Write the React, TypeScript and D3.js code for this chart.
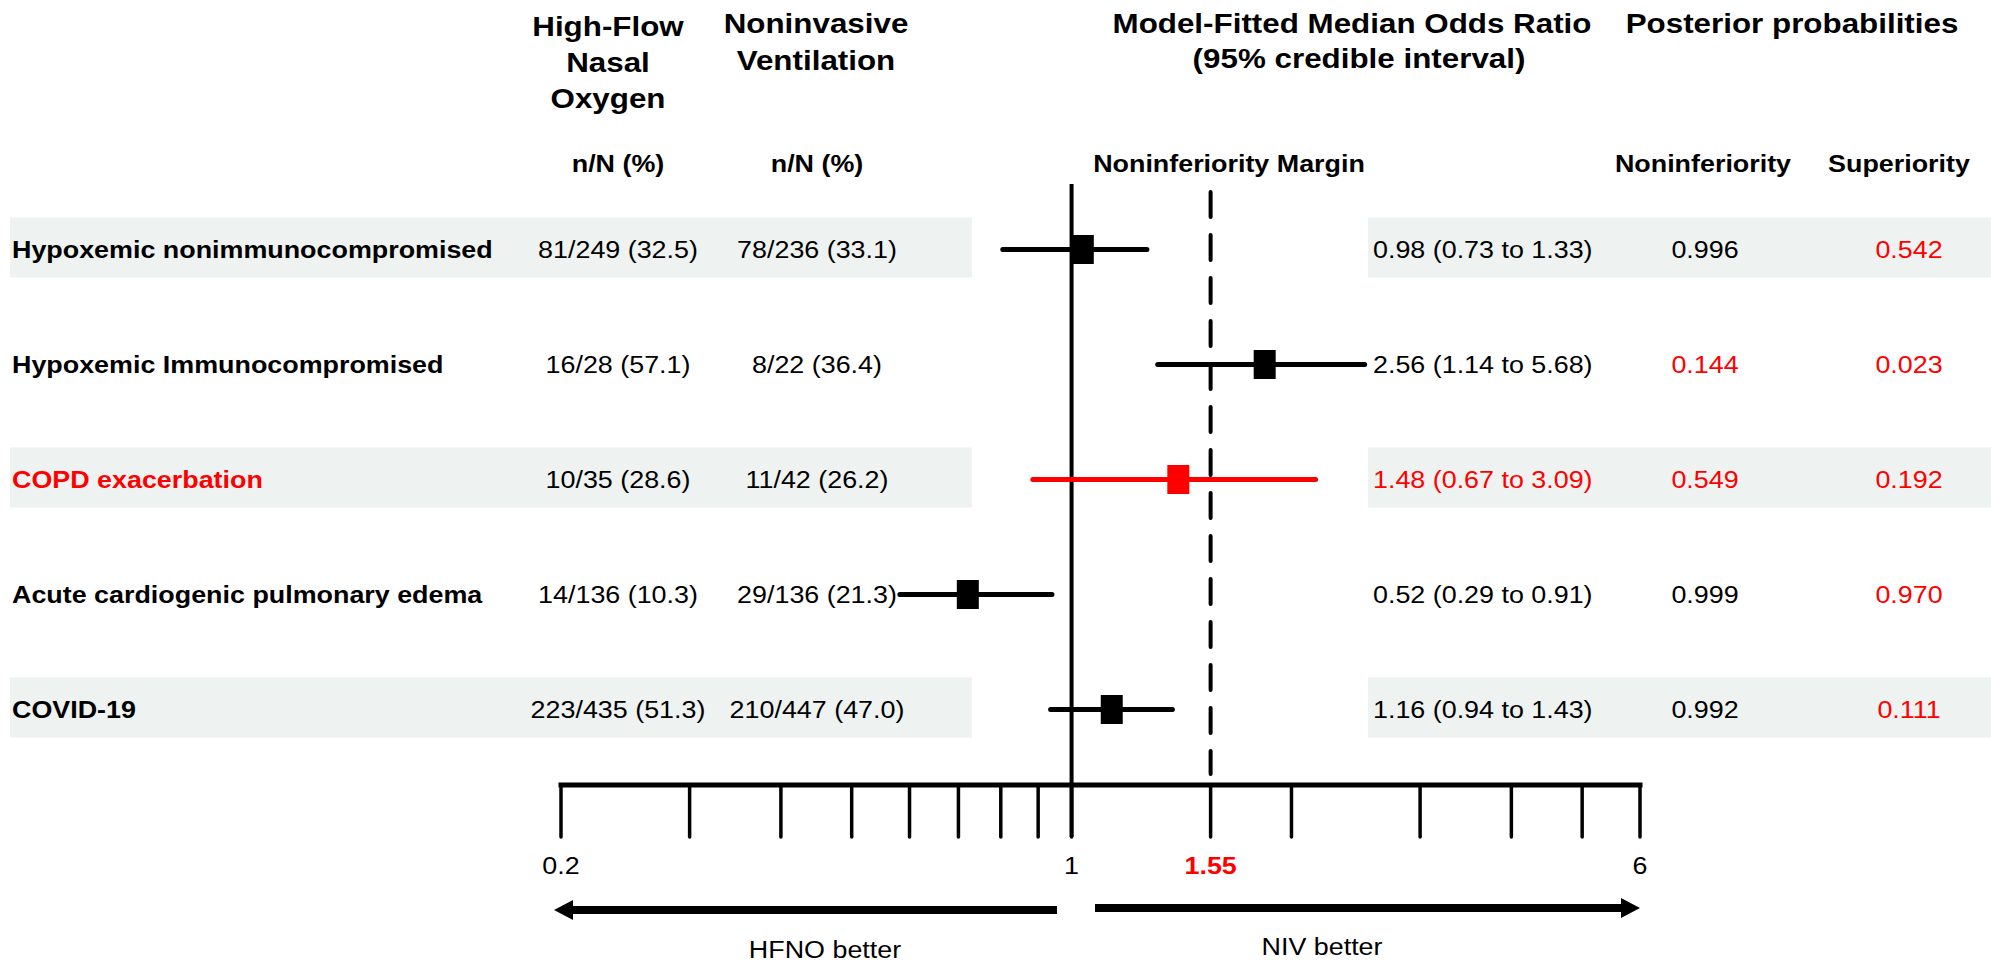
import React from "react";
import * as d3 from "d3";

// ---------- data ----------
const categories = [
  "Hypoxemic nonimmunocompromised",
  "Hypoxemic Immunocompromised",
  "COPD exacerbation",
  "Acute cardiogenic pulmonary edema",
  "COVID-19",
];
const hfnoCounts = ["81/249 (32.5)", "16/28 (57.1)", "10/35 (28.6)", "14/136 (10.3)", "223/435 (51.3)"];
const nivCounts = ["78/236 (33.1)", "8/22 (36.4)", "11/42 (26.2)", "29/136 (21.3)", "210/447 (47.0)"];
const orLabels = [
  "0.98 (0.73 to 1.33)",
  "2.56 (1.14 to 5.68)",
  "1.48 (0.67 to 3.09)",
  "0.52 (0.29 to 0.91)",
  "1.16 (0.94 to 1.43)",
];
// marker positions as drawn in the figure (odds-ratio scale)
const plotEstimate = [1.036, 1.838, 1.4, 0.721, 1.135];
const plotLower = [0.805, 1.312, 0.885, 0.582, 0.936];
const plotUpper = [1.268, 2.519, 2.158, 0.94, 1.374];
const probNoninferiority = [0.996, 0.144, 0.549, 0.999, 0.992];
const probSuperiority = [0.542, 0.023, 0.192, 0.97, 0.111];
const highlightCategory = "COPD exacerbation";
const tickValues = [0.2, 0.3, 0.4, 0.5, 0.6, 0.7, 0.8, 0.9, 1, 1.55, 2, 3, 4, 5, 6];
const labeledTicks = [0.2, 1, 1.55, 6];
const noninferiorityMargin = 1.55;

// ---------- layout ----------
const W = 1991;
const H = 966;
const FONT = "'Liberation Sans', Arial, Helvetica, sans-serif";
const RED = "#fe0000";
const BAND = "#eef2f1";
const SX = 1.12;

const x = d3.scaleLog().domain([0.2, 6]).range([561, 1640]);
const y = d3.scalePoint<string>().domain(categories).range([249.5, 709.5]);

const AXIS_Y = 785;
const TICK_END = 837;

function T({
  x: tx,
  y: ty,
  size,
  bold,
  anchor = "middle",
  fill = "#000",
  children,
}: {
  x: number;
  y: number;
  size: number;
  bold?: boolean;
  anchor?: "start" | "middle" | "end";
  fill?: string;
  children: React.ReactNode;
}) {
  return (
    <text
      transform={`translate(${tx},${ty}) scale(${SX},1)`}
      fontFamily={FONT}
      fontSize={size}
      fontWeight={bold ? "bold" : "normal"}
      textAnchor={anchor}
      fill={fill}
    >
      {children}
    </text>
  );
}

function Arrow({ from, to, yy }: { from: number; to: number; yy: number }) {
  const dir = Math.sign(to - from);
  const headLen = 19;
  const half = 10;
  const shaft = 4;
  const base = to - dir * headLen;
  const p = [
    [from, yy - shaft],
    [base, yy - shaft],
    [base, yy - half],
    [to, yy],
    [base, yy + half],
    [base, yy + shaft],
    [from, yy + shaft],
  ];
  return <path d={d3.line()(p as [number, number][]) + "Z"} fill="#000" />;
}

export default function App() {
  const fmt = d3.format(".3f");
  const COL_LABEL = 12;
  const COL_HFNO = 618;
  const COL_NIV = 817;
  const COL_OR = 1373;
  const COL_NI = 1705;
  const COL_SUP = 1909;
  const VALUE_SIZE = 24;

  return (
    <svg
      width={W}
      height={H}
      viewBox={`0 0 ${W} ${H}`}
      style={{ position: "absolute", left: 0, top: 0, background: "#fff" }}
    >
      <rect x={0} y={0} width={W} height={H} fill="#fff" />

      {/* row bands */}
      {categories.map((c, i) =>
        i % 2 === 0 ? (
          <g key={"band" + c}>
            <rect x={10} y={(y(c) as number) - 32} width={962} height={60} fill={BAND} />
            <rect x={1368} y={(y(c) as number) - 32} width={W - 1368} height={60} fill={BAND} />
          </g>
        ) : null
      )}

      {/* headers */}
      <T x={608} y={36} size={28} bold>High-Flow</T>
      <T x={608} y={72} size={28} bold>Nasal</T>
      <T x={608} y={108} size={28} bold>Oxygen</T>
      <T x={816} y={33} size={28} bold>Noninvasive</T>
      <T x={816} y={70} size={28} bold>Ventilation</T>
      <T x={1352} y={33} size={28} bold>Model-Fitted Median Odds Ratio</T>
      <T x={1359} y={68} size={28} bold>(95% credible interval)</T>
      <T x={1792} y={33} size={28} bold>Posterior probabilities</T>

      <T x={COL_HFNO} y={172} size={24} bold>n/N (%)</T>
      <T x={COL_NIV} y={172} size={24} bold>n/N (%)</T>
      <T x={1229} y={172} size={24} bold>Noninferiority Margin</T>
      <T x={1703} y={172} size={24} bold>Noninferiority</T>
      <T x={1899} y={172} size={24} bold>Superiority</T>

      {/* rows text */}
      {categories.map((c, i) => {
        const cy = y(c) as number;
        const hl = c === highlightCategory;
        const base = cy + 8;
        return (
          <g key={"txt" + c}>
            <T x={COL_LABEL} y={base} size={24} bold anchor="start" fill={hl ? RED : "#000"}>
              {c}
            </T>
            <T x={COL_HFNO} y={base} size={VALUE_SIZE}>{hfnoCounts[i]}</T>
            <T x={COL_NIV} y={base} size={VALUE_SIZE}>{nivCounts[i]}</T>
            <T x={COL_OR} y={base} size={VALUE_SIZE} anchor="start" fill={hl ? RED : "#000"}>
              {orLabels[i]}
            </T>
            <T
              x={COL_NI}
              y={base}
              size={VALUE_SIZE}
              fill={hl || probNoninferiority[i] < 0.95 ? RED : "#000"}
            >
              {fmt(probNoninferiority[i])}
            </T>
            <T x={COL_SUP} y={base} size={VALUE_SIZE} fill={RED}>
              {fmt(probSuperiority[i])}
            </T>
          </g>
        );
      })}

      {/* reference lines */}
      <line x1={x(1)} x2={x(1)} y1={184} y2={TICK_END} stroke="#000" strokeWidth={4} />
      <line
        x1={x(noninferiorityMargin)}
        x2={x(noninferiorityMargin)}
        y1={192}
        y2={774}
        stroke="#000"
        strokeWidth={4}
        strokeDasharray="25 18"
        strokeLinecap="round"
      />

      {/* intervals */}
      {categories.map((c, i) => {
        const cy = y(c) as number;
        const col = c === highlightCategory ? RED : "#000";
        return (
          <g key={"ci" + c}>
            <line
              x1={x(plotLower[i])}
              x2={x(plotUpper[i])}
              y1={cy}
              y2={cy}
              stroke={col}
              strokeWidth={5}
              strokeLinecap="round"
            />
            <rect x={x(plotEstimate[i]) - 11} y={cy - 14.5} width={22} height={29} fill={col} />
          </g>
        );
      })}

      {/* axis */}
      <line x1={x(0.2)} x2={x(6)} y1={AXIS_Y} y2={AXIS_Y} stroke="#000" strokeWidth={5} strokeLinecap="square" />
      {tickValues.map((t) => (
        <line
          key={"tick" + t}
          x1={x(t)}
          x2={x(t)}
          y1={AXIS_Y}
          y2={TICK_END}
          stroke="#000"
          strokeWidth={3.5}
          strokeLinecap="round"
        />
      ))}
      {labeledTicks.map((t) => (
        <T
          key={"lab" + t}
          x={x(t)}
          y={874}
          size={24}
          bold={t === noninferiorityMargin}
          fill={t === noninferiorityMargin ? RED : "#000"}
        >
          {String(t)}
        </T>
      ))}

      {/* direction arrows */}
      <Arrow from={1057} to={x(0.2) - 7} yy={910} />
      <Arrow from={1095} to={x(6)} yy={908} />
      <T x={825} y={958} size={24}>HFNO better</T>
      <T x={1322} y={955} size={24}>NIV better</T>
    </svg>
  );
}
